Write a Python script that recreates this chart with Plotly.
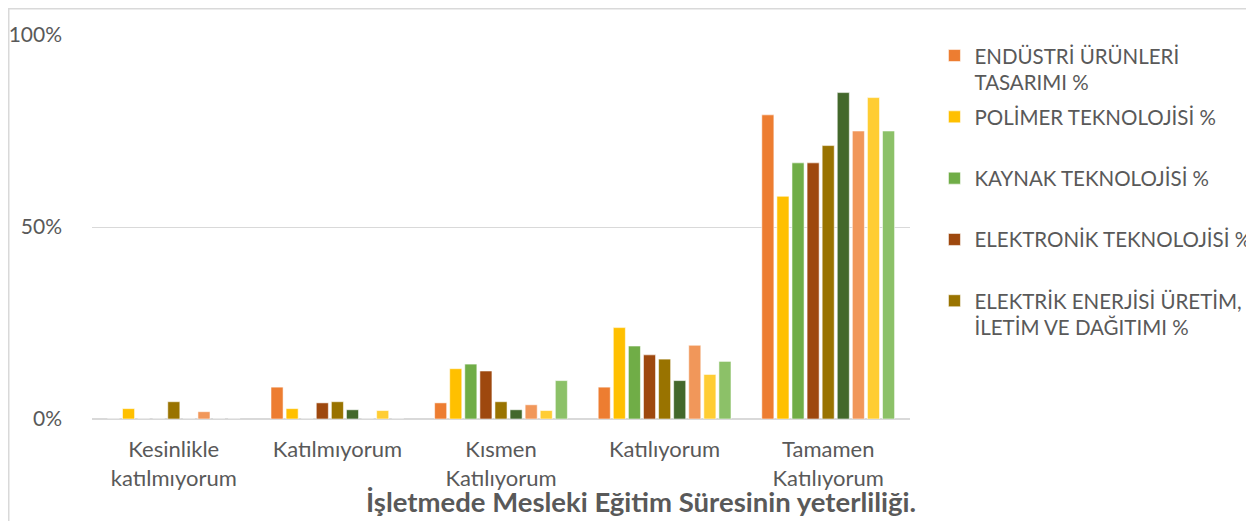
import plotly.graph_objects as go

categories = ["Kesinlikle<br>katılmıyorum", "Katılmıyorum", "Kısmen<br>Katılıyorum",
              "Katılıyorum", "Tamamen<br>Katılıyorum"]

series_names = [
    "ENDÜSTRİ ÜRÜNLERİ<br>TASARIMI %",
    "POLİMER TEKNOLOJİSİ %",
    "KAYNAK TEKNOLOJİSİ %",
    "ELEKTRONİK TEKNOLOJİSİ %",
    "ELEKTRİK ENERJİSİ ÜRETİM,<br>İLETİM VE DAĞITIMI %",
    "Seri 6", "Seri 7", "Seri 8", "Seri 9",
]

s1 = [0, 8.3, 4.2, 8.3, 79.2]
s2 = [2.7, 2.7, 13.1, 23.8, 58.0]
s3 = [0, 0, 14.3, 19.0, 66.7]
s4 = [0, 4.2, 12.5, 16.7, 66.7]
s5 = [4.5, 4.5, 4.5, 15.6, 71.2]
s6 = [0, 2.4, 2.4, 10.0, 85.0]
s7 = [1.9, 0, 3.7, 19.2, 75.0]
s8 = [0, 2.2, 2.2, 11.6, 83.7]
s9 = [0, 0, 10.0, 15.0, 75.0]
series_values = [s1, s2, s3, s4, s5, s6, s7, s8, s9]

y_tick_vals = [0, 50, 100]
y_tick_text = ["0%", "50%", "100%"]

colors = ["#ED7D31", "#FFC000", "#70AD47", "#9E480E", "#997300",
          "#43682B", "#F1975A", "#FFCD33", "#8CC168"]

FONT = "Lato, 'Open Sans', sans-serif"
TXT = "#595959"

# plot area in figure pixels
L, R, T, B = 84, 902, 27, 411
W, H = R - L, B - T

fig = go.Figure()
for i, (name, vals, col) in enumerate(zip(series_names, series_values, colors)):
    label = name if "<br>" in name else name + "<br> "
    fig.add_trace(go.Bar(
        x=categories, y=vals, name=label, marker_color=col,
        marker_line=dict(color="rgba(255,255,255,0.55)", width=1),
        showlegend=i < 5, legendgroup=f"g{i}",
    ))

fig.update_layout(
    width=1254, height=521,
    margin=dict(l=L, r=1254 - R, t=T, b=521 - B, autoexpand=False),
    paper_bgcolor="white", plot_bgcolor="white",
    barmode="group", bargap=0.17, bargroupgap=0.2,
    font=dict(family=FONT, color=TXT, size=20),
    legend=dict(
        xref="container", yref="container",
        x=0.7388, y=0.9468, xanchor="left", yanchor="top",
        font=dict(size=20.5, color=TXT), valign="top",
        tracegroupgap=5, traceorder="grouped",
        itemwidth=30, maxheight=480,
    ),
    yaxis=dict(
        range=[0, 100], tickmode="array", tickvals=y_tick_vals, ticktext=y_tick_text,
        showgrid=True, gridcolor="#d9d9d9", gridwidth=1,
        zeroline=True, zerolinecolor="#d9d9d9", zerolinewidth=2,
        showline=False, ticks="", automargin=False,
        tickfont=dict(size=21, color=TXT), ticklabelstandoff=29,
    ),
    xaxis=dict(
        showline=False, ticks="", tickfont=dict(size=22, color=TXT),
        tickangle=0, automargin=False, ticklabelstandoff=15,
    ),
    shapes=[dict(type="rect", xref="paper", yref="paper",
                 x0=(0.75 - L) / W, x1=(1254 + 20 - L) / W,
                 y0=-(521 - B + 20) / H, y1=(B - 0.75) / H,
                 line=dict(color="#d9d9d9", width=1.5), layer="below")],
    annotations=[dict(
        text="<b>İşletmede Mesleki Eğitim Süresinin yeterliliği.</b>",
        xref="paper", yref="paper", x=(633 - L) / W, y=-(493 - B) / H,
        xanchor="center", yanchor="middle", showarrow=False,
        font=dict(size=27.5, color=TXT, family=FONT),
    )],
)

fig.write_html("out.html")
